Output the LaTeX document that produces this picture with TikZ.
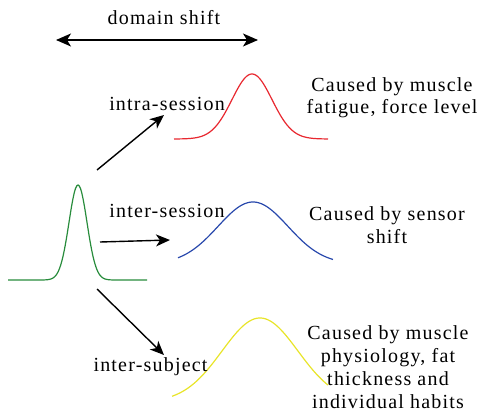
\documentclass[tikz,border=0pt]{standalone}
\usepackage{fontspec}
\setmainfont[LetterSpace=6]{Liberation Serif}
\usetikzlibrary{arrows.meta}
\definecolor{cred}{RGB}{232,40,48}
\definecolor{cblue}{RGB}{40,72,172}
\definecolor{cyel}{RGB}{232,228,40}
\definecolor{cgreen}{RGB}{40,140,60}
\tikzset{
  lbl/.style={font=\fontsize{20}{23}\selectfont, inner sep=0pt, anchor=base},
  blk/.style={font=\fontsize{20}{23}\selectfont, inner sep=0pt, align=center, anchor=base},
  arr/.style={line width=1.4pt, -{Stealth[length=14pt,width=12pt,inset=4pt]}},
  curve/.style={line width=1.2pt, smooth}
}
\begin{document}
\begin{tikzpicture}[x=1pt,y=-1pt]
\useasboundingbox (0,0) rectangle (484,414);
% domain shift
\node[lbl] (ds) at (164,25) {domain shift};
\coordinate (dsl) at (56,40);
\coordinate (dsr) at (258,40);
\draw[line width=1.4pt, {Stealth[length=15pt,width=13pt,inset=4pt]}-{Stealth[length=15pt,width=13pt,inset=4pt]}] (dsl) -- (dsr);
% curves
\draw[curve, cgreen] plot[domain=8:147, samples=120] (\x, {280-95*exp(-(\x-78)^2/(2*9^2))});
\draw[curve, cred] plot[domain=174:328, samples=120] (\x, {139-65*exp(-(\x-252)^2/(2*20^2))});
\draw[curve, cblue] plot[domain=178:333, samples=120] (\x, {264-62*exp(-(\x-253)^2/(2*35^2))});
\draw[curve, cyel] plot[domain=172:328, samples=120] (\x, {402-84*exp(-(\x-260)^2/(2*38^2))});
% arrows
\coordinate (a1s) at (97,170);
\coordinate (a1e) at (164,115);
\coordinate (a2s) at (100,242);
\coordinate (a2e) at (170,240);
\coordinate (a3s) at (97,289);
\coordinate (a3e) at (164,355);
\draw[arr] (a1s) -- (a1e);
\draw[arr] (a2s) -- (a2e);
\draw[arr] (a3s) -- (a3e);
% labels
\node[lbl] (intra) at (167,111) {intra-session};
\node[lbl] (inters) at (167,217) {inter-session};
\node[lbl] (intersub) at (150.5,371) {inter-subject};
% causes (base anchor = last line)
\node[blk, font=\fontsize{20}{22}\selectfont] (c1) at (392,114) {Caused by muscle\\fatigue, force level};
\node[blk] (c2) at (387,243) {Caused by sensor\\shift};
\node[blk] (c3) at (388,408) {Caused by muscle\\physiology, fat\\thickness and\\individual habits};
\end{tikzpicture}
\end{document}
